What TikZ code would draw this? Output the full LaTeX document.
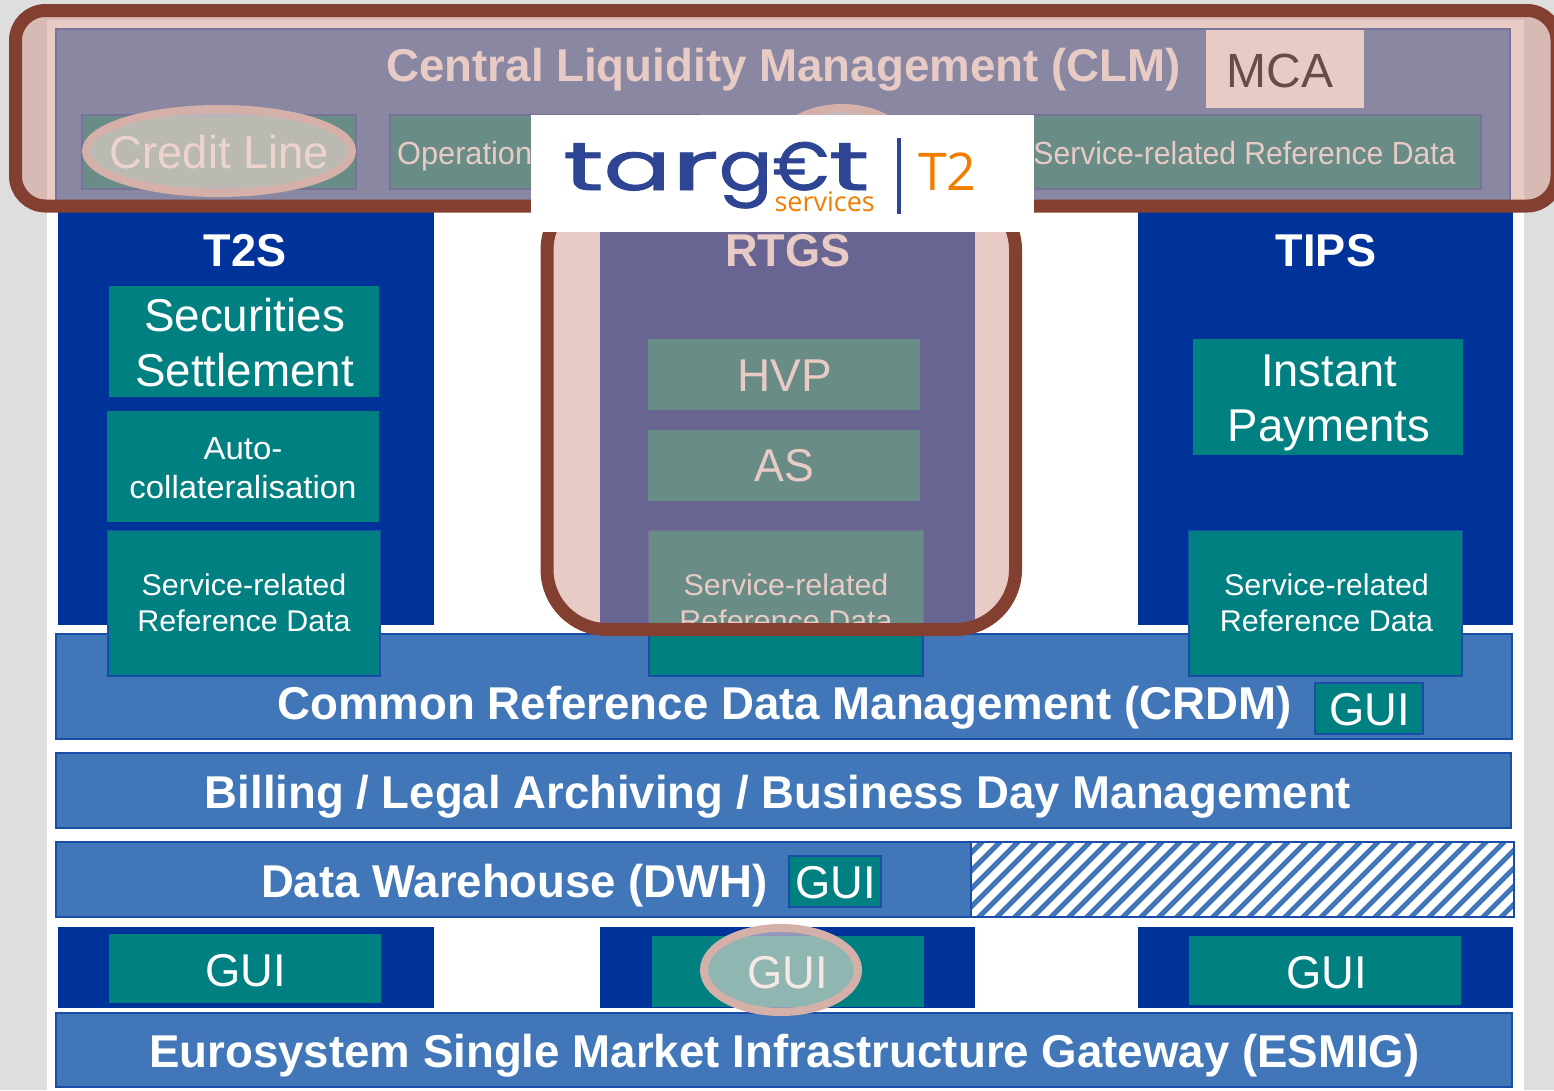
\documentclass[tikz,border=0pt]{standalone}
\usepackage{fontspec}
\setmainfont{Liberation Sans}
\newfontfamily\logofont[RawFeature={embolden=1.2}]{Poppins}
\newfontfamily\logoT{Open Sans}
\definecolor{bggrey}{HTML}{DEDEDE}
\definecolor{navy}{HTML}{003399}
\definecolor{teal2}{HTML}{008080}
\definecolor{barblue}{HTML}{4177B8}
\definecolor{edgeblue}{HTML}{1A4DA8}
\definecolor{brownline}{HTML}{833F30}
\definecolor{veil}{RGB}{210,152,140}
\definecolor{ringc}{HTML}{D4B0A8}
\definecolor{ringfill}{HTML}{F0DAD2}
\definecolor{logonavy}{HTML}{2E4594}
\definecolor{logoorange}{HTML}{F07D00}
\newcommand{\txt}[3]{\scalebox{#2}[1]{\fontsize{#1}{#1}\selectfont #3}}
\tikzset{
 x=1pt,y=-1pt,
 bar/.style={draw=edgeblue,line width=1.5pt,fill=barblue},
 svc/.style={fill=navy},
 tealbox/.style={fill=teal2},
 tealedge/.style={fill=teal2,draw=edgeblue,line width=1.5pt},
 lbl/.style={anchor=base,text=white,inner sep=0pt,align=center},
 ring/.style={draw=ringc,line width=8pt,fill=ringfill,fill opacity=.6},
 veilarea/.style={fill=veil,fill opacity=.5},
 highlight/.style={draw=brownline,line width=13pt},
}
\begin{document}
\begin{tikzpicture}
\useasboundingbox (0,0) rectangle (1554,1090);
\clip (0,0) rectangle (1554,1090);
\fill[bggrey] (0,0) rectangle (1554,1090);
\fill[white] (47,20) rectangle (1524,1090);
% CLM
\draw[bar] (56,29) rectangle (1510,208);
\fill[white] (1206,30) rectangle (1364,108);
\draw[tealedge] (82,115) rectangle (356,189);
\draw[tealedge] (390,115) rectangle (700,189);
\draw[tealedge] (960,115) rectangle (1481,189);
\node[lbl,font=\bfseries] (clm) at (783.5,81) {\txt{46}{0.993}{Central Liquidity Management (CLM)}};
\node[lbl,text=black] (mca) at (1280,87) {\txt{48}{1.0}{MCA}};
\node[lbl] (credit) at (219.5,168) {\txt{46}{0.985}{Credit Line}};
\node[lbl] (oper) at (397,164) [anchor=base west] {\txt{32}{0.96}{Operations}};
\node[lbl] (srd) at (1244.5,164) {\txt{32}{0.942}{Service-related Reference Data}};
% columns
\fill[svc] (57.5,205) rectangle (434,625);
\fill[svc] (600,205) rectangle (975,625);
\fill[svc] (1138,205) rectangle (1513,625);
\node[lbl,font=\bfseries] (t2s) at (245,266) {\txt{46}{0.98}{T2S}};
\node[lbl,font=\bfseries] (rtgs) at (788,266) {\txt{46}{0.98}{RTGS}};
\node[lbl,font=\bfseries] (tips) at (1326,266) {\txt{46}{0.98}{TIPS}};
\fill[tealbox] (109,286) rectangle (379,397);
\fill[tealbox] (107,411) rectangle (379,522);
\fill[tealbox] (648,339) rectangle (920,410);
\fill[tealbox] (648,430) rectangle (920,501);
\fill[tealbox] (1193,339) rectangle (1463,455);
\node[lbl] (sec1) at (244.5,331) {\txt{46}{0.995}{Securities}};
\node[lbl] (sec2) at (244.5,386) {\txt{46}{0.995}{Settlement}};
\node[lbl] (auto1) at (243,459) {\txt{32}{1.03}{Auto-}};
\node[lbl] (auto2) at (243,498) {\txt{32}{1.03}{collateralisation}};
\node[lbl] (hvp) at (784.5,391) {\txt{46}{1.0}{HVP}};
\node[lbl] (as) at (784.5,481) {\txt{46}{0.97}{AS}};
\node[lbl] (inst1) at (1329,386) {\txt{46}{0.98}{Instant}};
\node[lbl] (inst2) at (1329,441) {\txt{46}{0.99}{Payments}};
% CRDM and lower bars
\draw[bar] (56,634) rectangle (1512,739);
\draw[tealedge] (108,531) rectangle (380,676);
\draw[tealedge] (649,531) rectangle (923,676);
\draw[tealedge] (1189,531) rectangle (1462,676);
\fill[tealbox] (108,531) rectangle (380,625);
\fill[tealbox] (649,531) rectangle (923,625);
\fill[tealbox] (1189,531) rectangle (1462,625);
\node[lbl] (r1a) at (244,595) {\txt{30}{1.015}{Service-related}};
\node[lbl] (r1b) at (244,631) {\txt{30}{1.015}{Reference Data}};
\node[lbl] (r2a) at (786,595) {\txt{30}{1.015}{Service-related}};
\node[lbl] (r2b) at (786,631) {\txt{30}{1.015}{Reference Data}};
\node[lbl] (r3a) at (1326.5,595) {\txt{30}{1.015}{Service-related}};
\node[lbl] (r3b) at (1326.5,631) {\txt{30}{1.015}{Reference Data}};
\node[lbl,font=\bfseries] (crdm) at (784.5,719) {\txt{46}{0.992}{Common Reference Data Management (CRDM)}};
\draw[tealedge] (1315,683) rectangle (1423,734);
\node[lbl] (gui0) at (1370,725) {\txt{46}{0.985}{GUI}};
\draw[bar] (56,753) rectangle (1511,828);
\node[lbl,font=\bfseries] (bill) at (778,808) {\txt{46}{0.99}{Billing / Legal Archiving / Business Day Management}};
\draw[bar] (56,842) rectangle (971,917);
\node[lbl,font=\bfseries] (dwh) at (514.5,897) {\txt{46}{0.99}{Data Warehouse (DWH)}};
\draw[tealedge] (789,856) rectangle (881,907);
\node[lbl] (gui1) at (835.5,898) {\txt{46}{0.985}{GUI}};
% hatched part
\fill[white] (971,842) rectangle (1514,917);
\begin{scope}
\clip (971,842) rectangle (1514,917);
\foreach \k in {-6,...,32}{
 \draw[barblue,line width=5pt] (971+\k*18,925) -- (971+\k*18+90,835);
}
\end{scope}
\draw[edgeblue,line width=1.5pt] (971,842) rectangle (1514,917);
% GUI row
\fill[svc] (57.5,927) rectangle (434,1008);
\fill[svc] (600,927) rectangle (975,1008);
\fill[svc] (1138,927) rectangle (1513,1008);
\fill[tealbox] (109,934) rectangle (381,1003);
\fill[tealbox] (652,936) rectangle (924,1007);
\fill[tealbox] (1189,936) rectangle (1461,1005);
\node[lbl] (gui2) at (245.5,986) {\txt{46}{0.985}{GUI}};
\node[lbl] (gui3) at (788,988) {\txt{46}{0.985}{GUI}};
\node[lbl] (gui4) at (1326.5,988) {\txt{46}{0.985}{GUI}};
\draw[bar] (56,1013) rectangle (1512,1087);
\node[lbl,font=\bfseries] (esmig) at (784.5,1067) {\txt{46}{0.992}{Eurosystem Single Market Infrastructure Gateway (ESMIG)}};
% highlights
\fill[veilarea] (15.5,10.5) [rounded corners=30pt] rectangle (1557,206);
\fill[veilarea] (547,190) [rounded corners=60pt] rectangle (1015.5,629.5);
\draw[highlight,rounded corners=60pt] (547,190) rectangle (1015.5,629.5);
\draw[highlight,rounded corners=30pt] (15.5,10.5) rectangle (1557,206);
\draw[ring] (219,151) ellipse [x radius=133,y radius=42];
\draw[ring] (842,150) ellipse [x radius=66,y radius=42];
\draw[ring] (781,970) ellipse [x radius=77,y radius=42];
% logo
\node[fill=white,inner sep=0pt,minimum width=503pt,minimum height=117pt,anchor=north west] (logo) at (531,115) {};
\node[anchor=base west,inner sep=0pt,text=logonavy] (lt) at (563,190) {\scalebox{1.46}[1]{\fontsize{68}{68}\logofont \scalebox{1.12}[1]{t}a\scalebox{1.3}[1]{r}\scalebox{.8}[1]{g}\scalebox{.7}[1]{€}\scalebox{1.12}[1]{t}}};
\node[anchor=base east,inner sep=0pt,text=logoorange] (ls) at (875,211) {\fontsize{27}{27}\logoT services};
\node[anchor=base west,inner sep=0pt,text=logoorange] (l2) at (918,190) {\fontsize{52}{52}\logoT T2};
\coordinate (bara) at (899,138);
\coordinate (barb) at (899,214);
\draw[logonavy,line width=3.5pt] (bara) -- (barb);
\end{tikzpicture}
\end{document}
